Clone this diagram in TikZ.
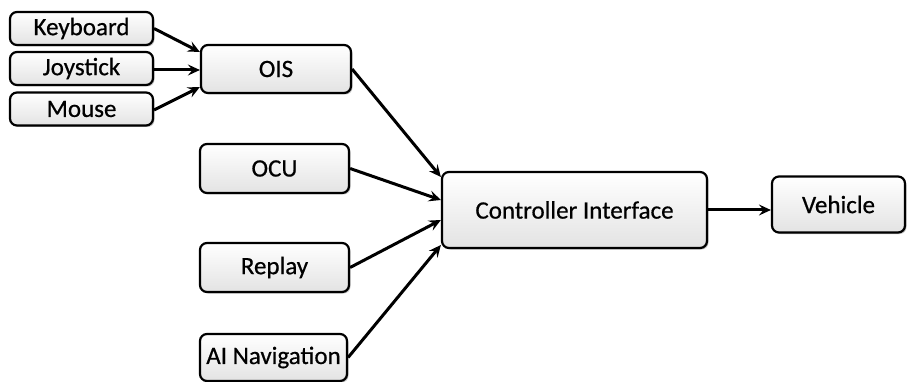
\documentclass[tikz,border=0pt]{standalone}
\usepackage{fontspec}
\setmainfont{Carlito}
\newfontfamily\boxfont{Carlito}[BoldFont=Carlito,BoldFeatures={FakeBold=0.6}]
\usetikzlibrary{arrows.meta,shadows}
\begin{document}
\begin{tikzpicture}[x=1pt,y=-1pt,
  blk/.style={draw=black,line width=2.2pt,rounded corners=7pt,
    top color=white,bottom color=gray!22,
    drop shadow={shadow xshift=1.5pt,shadow yshift=-1.5pt,fill=gray!60,opacity=0.8},
    inner sep=0pt,font=\boxfont\bfseries\fontsize{25}{28}\selectfont,text=black},
  arr/.style={line width=3pt,-{Stealth[length=12pt,width=11pt,inset=4.5pt]}}]
\useasboundingbox (0,0) rectangle (910,382);
\node[blk,minimum width=143pt,minimum height=33pt] (kb) at (81.5,28.5) {Keyboard};
\node[blk,minimum width=143pt,minimum height=33pt] (js) at (81.5,68.5) {Joystick};
\node[blk,minimum width=143pt,minimum height=33pt] (ms) at (81.5,109) {Mouse};
\node[blk,minimum width=150pt,minimum height=48pt] (ois) at (276,69) {OIS};
\node[blk,minimum width=149pt,minimum height=49pt] (ocu) at (274.5,168.5) {OCU};
\node[blk,minimum width=149pt,minimum height=49pt] (rep) at (274.5,267.5) {Replay};
\node[blk,minimum width=147pt,minimum height=47pt] (ai) at (273.5,357.5) {AI Navigation};
\node[blk,minimum width=265pt,minimum height=76pt] (ci) at (574.5,210) {Controller Interface};
\node[blk,minimum width=133pt,minimum height=56pt] (veh) at (838.5,204.5) {Vehicle};
\draw[arr] (kb.east) -- ([yshift=17pt]ois.west);
\draw[arr] ([yshift=-1.5pt]js.east) -- ([yshift=-1pt]ois.west);
\draw[arr] ([yshift=-1pt]ms.east) -- ([yshift=-18pt]ois.west);
\draw[arr] (ois.east) -- ([yshift=33pt]ci.west);
\draw[arr] (ocu.east) -- ([yshift=10pt]ci.west);
\draw[arr] (rep.east) -- ([yshift=-10pt]ci.west);
\draw[arr] (ai.east) -- ([yshift=-35pt]ci.west);
\draw[arr] (ci.east) -- (ci.east -| veh.west);
\end{tikzpicture}
\end{document}
